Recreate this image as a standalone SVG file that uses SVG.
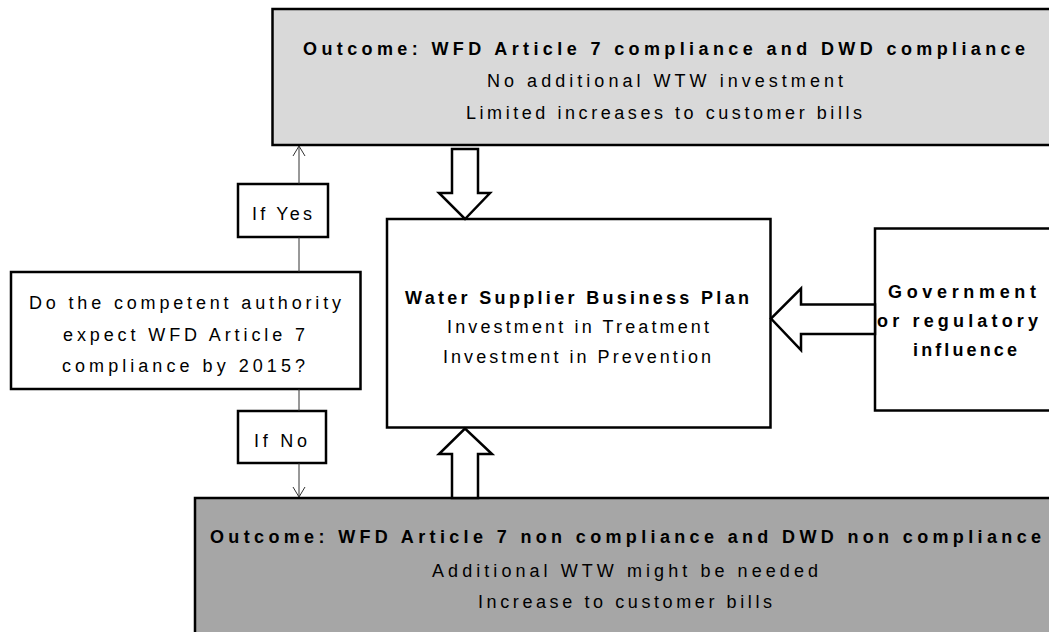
<svg xmlns="http://www.w3.org/2000/svg" width="1049" height="632" viewBox="0 0 1049 632">
<style>
.box{stroke:#000;stroke-width:2.5}
.t{font-family:"Liberation Sans",Arial,sans-serif;font-size:18px;fill:#000}
.b{font-weight:bold}
.conn{stroke:#333;stroke-width:1;fill:none}
.big{fill:#fff;stroke:#000;stroke-width:2.5;stroke-linejoin:miter}
</style>
<defs>
<marker id="open" markerUnits="userSpaceOnUse" markerWidth="14" markerHeight="14" refX="11" refY="7" orient="auto" viewBox="0 0 14 14">
<path d="M1,1 L11,7 L1,13" fill="none" stroke="#333" stroke-width="1"/>
</marker>
</defs>
<rect width="1049" height="632" fill="#fff"/>

<g id="outcome-yes">
<rect class="box" x="272.5" y="9" width="785" height="136" fill="#d9d9d9"/>
<text class="t b" x="303" y="55" textLength="722" lengthAdjust="spacing">Outcome: WFD Article 7 compliance and DWD compliance</text>
<text class="t" x="487" y="87" textLength="356" lengthAdjust="spacing">No additional WTW investment</text>
<text class="t" x="466" y="119" textLength="396" lengthAdjust="spacing">Limited increases to customer bills</text>
</g>

<g id="outcome-no">
<rect class="box" x="195" y="498" width="860" height="150" fill="#a6a6a6"/>
<text class="t b" x="210" y="543" textLength="831" lengthAdjust="spacing">Outcome: WFD Article 7 non compliance and DWD non compliance</text>
<text class="t" x="432" y="577" textLength="386" lengthAdjust="spacing">Additional WTW might be needed</text>
<text class="t" x="478" y="608" textLength="294" lengthAdjust="spacing">Increase to customer bills</text>
</g>

<g id="business-plan">
<rect class="box" x="387" y="219" width="383.5" height="208.5" fill="#fff"/>
<text class="t b" x="405" y="304" textLength="344" lengthAdjust="spacing">Water Supplier Business Plan</text>
<text class="t" x="447" y="333" textLength="262" lengthAdjust="spacing">Investment in Treatment</text>
<text class="t" x="443" y="363" textLength="268" lengthAdjust="spacing">Investment in Prevention</text>
</g>

<g id="government">
<rect class="box" x="875" y="228.5" width="180" height="182" fill="#fff"/>
<text class="t b" x="888" y="298" textLength="148" lengthAdjust="spacing">Government</text>
<text class="t b" x="877" y="327" textLength="161" lengthAdjust="spacing">or regulatory</text>
<text class="t b" x="913" y="356" textLength="104" lengthAdjust="spacing">influence</text>
</g>

<g id="question">
<rect class="box" x="11" y="272" width="349.5" height="117" fill="#fff"/>
<text class="t" x="29" y="309" textLength="312" lengthAdjust="spacing">Do the competent authority</text>
<text class="t" x="63" y="340.5" textLength="242" lengthAdjust="spacing">expect WFD Article 7</text>
<text class="t" x="62" y="372" textLength="243" lengthAdjust="spacing">compliance by 2015?</text>
</g>

<g id="if-yes">
<rect class="box" x="238" y="184" width="90" height="53" fill="#fff"/>
<text class="t" x="252" y="220" textLength="60" lengthAdjust="spacing">If Yes</text>
</g>

<g id="if-no">
<rect class="box" x="238" y="411" width="88" height="52" fill="#fff"/>
<text class="t" x="254" y="447" textLength="53" lengthAdjust="spacing">If No</text>
</g>

<g id="connectors">
<line class="conn" x1="299" y1="272" x2="299" y2="237"/>
<line class="conn" x1="299" y1="184" x2="299" y2="146" marker-end="url(#open)"/>
<line class="conn" x1="299" y1="389" x2="299" y2="411"/>
<line class="conn" x1="299" y1="463" x2="299" y2="497" marker-end="url(#open)"/>
<polygon class="big" points="452,149 478,149 478,193 490,193 465,219 439,193 452,193"/>
<polygon class="big" points="452,498 452,454 439,454 465,428.5 492,454 478,454 478,498"/>
<polygon class="big" points="875,304.5 801,304.5 801,288.5 771,318.5 801,350 801,334 875,334"/>
</g>
</svg>
